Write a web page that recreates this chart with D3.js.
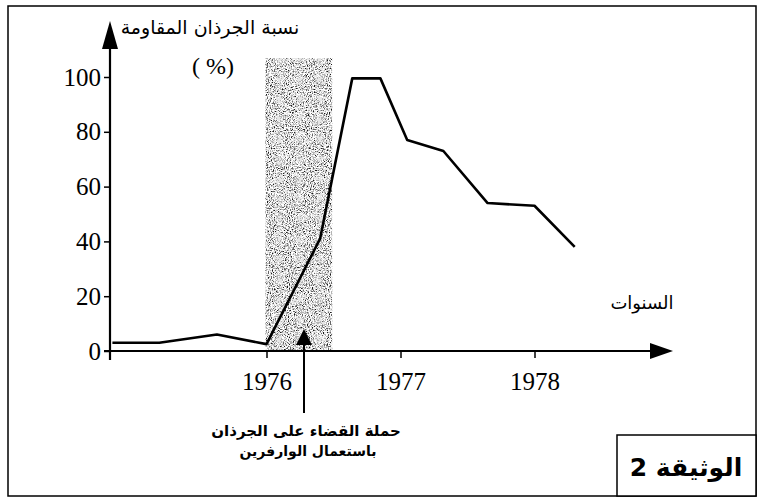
<!DOCTYPE html>
<html>
<head>
<meta charset="utf-8">
<script src="https://cdn.jsdelivr.net/npm/d3@7"></script>
<style>
  body { margin: 0; background: #fff; }
  svg { display: block; }
  .serif { font-family: "Liberation Serif", "Times New Roman", serif; }
  .ar { font-family: "DejaVu Sans", Arial, sans-serif; }
</style>
</head>
<body>
<div id="chart"></div>
<script>
// values
var years = [1974.85, 1975.2, 1975.63, 1976.0, 1976.4, 1976.64, 1976.85, 1977.05, 1977.32, 1977.65, 1978.0, 1978.3];
var resistant = [3, 3, 6, 2.5, 41, 99.5, 99.5, 77, 73, 54, 53, 38];
var yearTicks = [1976, 1977, 1978];
var percentTicks = [0, 20, 40, 60, 80, 100];
var campaign = [1976.0, 1976.49];

var width = 759, height = 499;

var svg = d3.select("#chart").append("svg")
  .attr("width", width)
  .attr("height", height);

var defs = svg.append("defs");

// grainy shading like the scanned band
var f = defs.append("filter").attr("id", "grain")
  .attr("x", 0).attr("y", 0).attr("width", 1).attr("height", 1);
f.append("feTurbulence").attr("type", "fractalNoise")
  .attr("baseFrequency", 0.95).attr("numOctaves", 2).attr("seed", 4).attr("result", "n");
f.append("feColorMatrix").attr("in", "n").attr("type", "matrix")
  .attr("values", "0 0 0 0 0  0 0 0 0 0  0 0 0 0 0  1.6 0 0 0 -0.35").attr("result", "a");
f.append("feComponentTransfer").attr("in", "a").attr("result", "d")
  .append("feFuncA").attr("type", "discrete").attr("tableValues", "0 0 0.1 0.3 0.6 0.9");
f.append("feComposite").attr("in", "d").attr("in2", "SourceGraphic").attr("operator", "in");

var x = d3.scaleLinear().domain([1975, 1978]).range([132.5, 534.5]);
var y = d3.scaleLinear().domain([0, 100]).range([351, 77]);

// triangle head, tip at (tx,ty), pointing along (dx,dy)
function arrowHead(tx, ty, dx, dy, len, half) {
  var px = -dy, py = dx;
  var bx = tx - dx * len, by = ty - dy * len;
  svg.append("path")
    .attr("d", "M" + tx + "," + ty +
      "L" + (bx + px * half) + "," + (by + py * half) +
      "L" + (bx - px * half) + "," + (by - py * half) + "Z")
    .attr("fill", "#000");
}

// frame
svg.append("rect")
  .attr("x", 8).attr("y", 6).attr("width", 748).attr("height", 490)
  .attr("fill", "none").attr("stroke", "#000").attr("stroke-width", 1.5);

// campaign band
svg.append("rect")
  .attr("x", x(campaign[0]) - 1).attr("y", 58)
  .attr("width", x(campaign[1]) - x(campaign[0]) + 1)
  .attr("height", y(0) - 58)
  .attr("fill", "#2a2a2a")
  .attr("filter", "url(#grain)");

// y axis
var yAxis = svg.append("g")
  .attr("transform", "translate(110,0)")
  .call(d3.axisLeft(y).tickValues(percentTicks).tickSize(6).tickPadding(3));
yAxis.select(".domain").remove();
yAxis.selectAll("line").attr("stroke-width", 1.5);
yAxis.selectAll("text").attr("font-size", 25).attr("fill", "#000")
  .attr("font-family", "Liberation Serif, Times New Roman, serif");

svg.append("line")
  .attr("x1", 110).attr("y1", 360).attr("x2", 110).attr("y2", 40)
  .attr("stroke", "#000").attr("stroke-width", 2.2);
arrowHead(110, 21, 0, -1, 28, 8);

// x axis
var xAxis = svg.append("g")
  .attr("transform", "translate(0," + y(0) + ")")
  .call(d3.axisBottom(x).tickValues(yearTicks).tickFormat(d3.format("d")).tickSize(7).tickPadding(14));
xAxis.select(".domain").remove();
xAxis.selectAll("line").attr("stroke-width", 1.5);
xAxis.selectAll("text").attr("font-size", 25).attr("fill", "#000")
  .attr("font-family", "Liberation Serif, Times New Roman, serif");

svg.append("line")
  .attr("x1", 104).attr("y1", y(0)).attr("x2", 660).attr("y2", y(0))
  .attr("stroke", "#000").attr("stroke-width", 2.2);
arrowHead(673, y(0), 1, 0, 23, 8);

// data line
var line = d3.line()
  .x(function(d, i) { return x(years[i]); })
  .y(function(d) { return y(d); });

svg.append("path")
  .attr("d", line(resistant))
  .attr("fill", "none")
  .attr("stroke", "#000")
  .attr("stroke-width", 2.6)
  .attr("stroke-linejoin", "round");

// labels
svg.append("text").attr("class", "ar")
  .attr("x", 210).attr("y", 34)
  .attr("text-anchor", "middle").attr("font-size", 19)
  .attr("direction", "rtl")
  .text("نسبة الجرذان المقاومة");

svg.append("text").attr("class", "serif")
  .attr("x", 213).attr("y", 74)
  .attr("text-anchor", "middle").attr("font-size", 24)
  .text("( %)");

svg.append("text").attr("class", "ar")
  .attr("x", 642).attr("y", 309)
  .attr("text-anchor", "middle").attr("font-size", 18)
  .attr("direction", "rtl")
  .text("السنوات");

// campaign arrow + note
var ax = x(1976.28);
svg.append("line")
  .attr("x1", ax).attr("y1", 413).attr("x2", ax).attr("y2", 342)
  .attr("stroke", "#000").attr("stroke-width", 2);
arrowHead(ax, 329, 0, -1, 16, 8);

svg.append("text").attr("class", "ar")
  .attr("x", ax + 2).attr("y", 436)
  .attr("text-anchor", "middle").attr("font-size", 15).attr("font-weight", "bold")
  .attr("direction", "rtl")
  .text("حملة القضاء على الجرذان");

svg.append("text").attr("class", "ar")
  .attr("x", ax + 4).attr("y", 456)
  .attr("text-anchor", "middle").attr("font-size", 14).attr("font-weight", "bold")
  .attr("direction", "rtl")
  .text("باستعمال الوارفرين");

// document box
svg.append("rect")
  .attr("x", 617).attr("y", 435).attr("width", 139).attr("height", 61)
  .attr("fill", "#fff").attr("stroke", "#000").attr("stroke-width", 1.5);

svg.append("text").attr("class", "ar")
  .attr("x", 686).attr("y", 476)
  .attr("text-anchor", "middle").attr("font-size", 25).attr("font-weight", "bold")
  .attr("direction", "rtl")
  .text("الوثيقة 2");
</script>
</body>
</html>
